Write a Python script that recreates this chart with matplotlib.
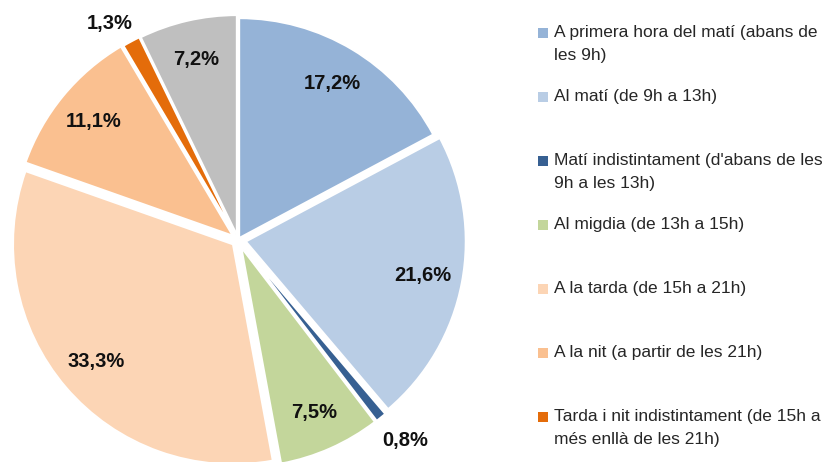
import numpy as np
import matplotlib
matplotlib.use("Agg")
import matplotlib.pyplot as plt
from matplotlib.patches import Rectangle

FONT = "Liberation Sans"

categories = [
    "A primera hora del matí (abans de\nles 9h)",
    "Al matí (de 9h a 13h)",
    "Matí indistintament (d'abans de les\n9h a les 13h)",
    "Al migdia (de 13h a 15h)",
    "A la tarda (de 15h a 21h)",
    "A la nit (a partir de les 21h)",
    "Tarda i nit indistintament (de 15h a\nmés enllà de les 21h)",
    "NS/NC",
]
values = [17.2, 21.6, 0.8, 7.5, 33.3, 11.1, 1.3, 7.2]
colors = ["#95B3D7", "#B9CDE5", "#376092", "#C3D69B", "#FCD5B5", "#FAC090", "#E46C0A", "#BFBFBF"]
explode = [0.01, 0.036, 0.036, 0.036, 0.03, 0.03, 0.025, 0.023]
legend_count = 7

W, H = 827, 462
fig = plt.figure(figsize=(W / 100, H / 100), dpi=100)
cx, cy, R = 238, 240, 220
ax = fig.add_axes([(cx - R) / W, (H - cy - R) / H, 2 * R / W, 2 * R / H])
wedges, _ = ax.pie(values, colors=colors, explode=explode, startangle=90, counterclock=False,
                   wedgeprops=dict(edgecolor="white", linewidth=1.5))
for w in wedges:
    w.set_clip_on(False)
ax.set_xlim(-1, 1)
ax.set_ylim(-1, 1)
ax.set_aspect("equal")
ax.axis("off")

for w, v in zip(wedges, values):
    th = np.deg2rad((w.theta1 + w.theta2) / 2)
    x0, y0 = w.center
    if v < 2:
        if v > 1:
            r = 1.12
            th += np.deg2rad(2.5)
        else:
            r = 1.15
            th += np.deg2rad(1.0)
    else:
        r = 0.82
    ax.text(x0 + r * np.cos(th), y0 + r * np.sin(th), f"{v:.1f}%".replace(".", ","),
            ha="center", va="center", fontsize=14.5, fontweight="bold", family=FONT,
            color="#111111", clip_on=False)

# legend
for i in range(legend_count):
    yc = 33 + 64 * i
    fig.patches.append(Rectangle((538 / W, 1 - (yc + 5) / H), 10 / W, 10 / H,
                                 transform=fig.transFigure, facecolor=colors[i], edgecolor="none"))
    fig.text(554 / W, 1 - (yc - 8) / H, categories[i], ha="left", va="top", fontsize=12.5,
             family=FONT, color="#262626", linespacing=1.7)

fig.savefig("out.png", dpi=100)
